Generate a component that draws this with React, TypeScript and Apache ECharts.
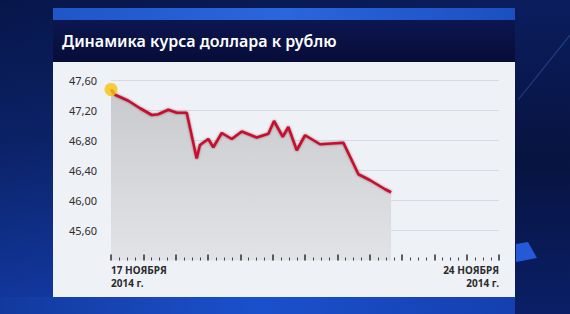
import React, { useEffect, useRef } from 'react';
import * as echarts from 'echarts';

// Position along the time axis (48 minor tick units between 17 and 24 November)
const xPos = [0, 0.5, 2.14, 3.59, 5.04, 5.85, 7.09, 8.13, 9.37, 10.6, 11.0, 12.04, 12.66, 13.7, 14.94, 16.18, 18.03, 19.47, 20.17, 21.25, 21.94, 22.98, 24.01, 25.87, 28.75, 30.61, 32.05, 33.91, 34.65];
// Dollar rate in roubles
const rate = [47.48, 47.41, 47.33, 47.23, 47.14, 47.15, 47.21, 47.17, 47.17, 46.56, 46.74, 46.82, 46.71, 46.9, 46.82, 46.92, 46.84, 46.89, 47.06, 46.85, 46.98, 46.67, 46.87, 46.75, 46.77, 46.35, 46.27, 46.15, 46.11];

const yMin = 45.2;
const yMax = 47.6;
const yStep = 0.4;
const xMin = 0;
const xMax = 48;
const xStep = 4;
const startLabel = '17 НОЯБРЯ\n2014 г.';
const endLabel = '24 НОЯБРЯ\n2014 г.';
const titleText = 'Динамика курса доллара к рублю';

export default function App() {
  const ref = useRef<HTMLDivElement>(null);
  useEffect(() => {
    const chart = echarts.init(ref.current!, null, { renderer: 'svg' });
    const lineData = xPos.map((x, i) => [x, rate[i]]);
    chart.setOption({
      animation: false,
      backgroundColor: 'transparent',
      title: {
        text: titleText,
        left: 62,
        top: 33,
        padding: 0,
        textStyle: { color: '#ffffff', fontSize: 16, fontWeight: 600, fontFamily: 'Noto Sans' },
      },
      graphic: [
        { type: 'rect', z: -20, shape: { x: 515, y: 0, width: 55, height: 314 },
          style: { fill: new echarts.graphic.LinearGradient(0, 0, 0, 1, [
            { offset: 0, color: '#0b1d5e' }, { offset: 0.5, color: '#071340' }, { offset: 1, color: '#0a1f66' }]) } },
        { type: 'line', z: -19, shape: { x1: 518, y1: 100, x2: 570, y2: 35 }, style: { stroke: 'rgba(110,150,255,0.3)', lineWidth: 1.2 } },
        { type: 'polygon', z: -19, shape: { points: [[516, 244], [528, 242], [537, 258], [516, 262]] }, style: { fill: '#2559d8' } },
        { type: 'rect', z: -19, shape: { x: 0, y: 297, width: 515, height: 17 },
          style: { fill: new echarts.graphic.LinearGradient(0, 0, 1, 0, [
            { offset: 0, color: '#123a9e' }, { offset: 0.5, color: '#1b50cc' }, { offset: 1, color: '#1440b0' }]) } },
        { type: 'rect', z: -18, shape: { x: 53, y: 8, width: 462, height: 12 },
          style: { fill: new echarts.graphic.LinearGradient(0, 0, 1, 0, [
            { offset: 0, color: '#1f56c8' }, { offset: 0.5, color: '#2a66dc' }, { offset: 1, color: '#1b4fc0' }]) } },
        { type: 'rect', z: -17, shape: { x: 53, y: 20, width: 462, height: 42 },
          style: { fill: new echarts.graphic.LinearGradient(0, 0, 0, 1, [
            { offset: 0, color: '#0c1650' }, { offset: 1, color: '#070d38' }]) } },
        { type: 'rect', z: -17, shape: { x: 53, y: 62, width: 462, height: 235 }, style: { fill: '#eef1f6' } },
      ],
      grid: { left: 111, right: 71, top: 80.5, bottom: 53.5 },
      xAxis: {
        type: 'value',
        min: xMin,
        max: xMax,
        interval: xStep,
        z: 10,
        axisLine: { show: false },
        splitLine: { show: false },
        axisTick: { show: true, inside: true, length: 6, lineStyle: { color: '#2b2b2b', width: 1.5 } },
        minorTick: { show: true, splitNumber: 4, length: 3, lineStyle: { color: '#444', width: 1 } },
        axisLabel: {
          showMinLabel: true,
          showMaxLabel: true,
          alignMinLabel: 'left',
          alignMaxLabel: 'right',
          margin: 3,
          color: '#2b2b2b',
          fontSize: 10,
          lineHeight: 13,
          fontWeight: 'bold',
          fontFamily: 'Noto Sans',
          formatter: (v: number) => (v === xMin ? startLabel : v === xMax ? endLabel : ''),
        },
      },
      yAxis: {
        type: 'value',
        min: yMin,
        max: yMax,
        interval: yStep,
        axisLine: { show: false },
        axisTick: { show: false },
        splitLine: { show: true, showMinLine: false, lineStyle: { color: '#d6dae2', width: 1.2 } },
        axisLabel: {
          margin: 14,
          color: '#2e2e2e',
          fontSize: 11,
          fontFamily: 'Noto Sans',
          padding: [4, 0, 0, 0],
          formatter: (v: number) => (Math.abs(v - yMin) < 1e-6 ? '' : v.toFixed(2).replace('.', ',')),
        },
      },
      series: [
        {
          type: 'line',
          data: lineData,
          symbol: 'none',
          lineStyle: { color: '#c8102e', width: 2.6, shadowColor: 'rgba(60,0,0,0.5)', shadowBlur: 2 },
          areaStyle: {
            color: new echarts.graphic.LinearGradient(0, 0, 0, 1, [
              { offset: 0, color: '#c9cace' },
              { offset: 1, color: '#e2e3e7' },
            ]),
            opacity: 1,
          },
          z: 3,
        },
        {
          type: 'scatter',
          data: [lineData[0]],
          symbolSize: 13,
          itemStyle: { color: '#f8c30f' },
          z: 4,
        },
      ],
    });
    return () => chart.dispose();
  }, []);
  return (
    <div
      ref={ref}
      style={{
        position: 'fixed',
        left: 0,
        top: 0,
        width: 570,
        height: 314,
        background: 'linear-gradient(170deg, #07164a 0%, #0b2266 35%, #113599 70%, #1844b8 100%)',
      }}
    />
  );
}
